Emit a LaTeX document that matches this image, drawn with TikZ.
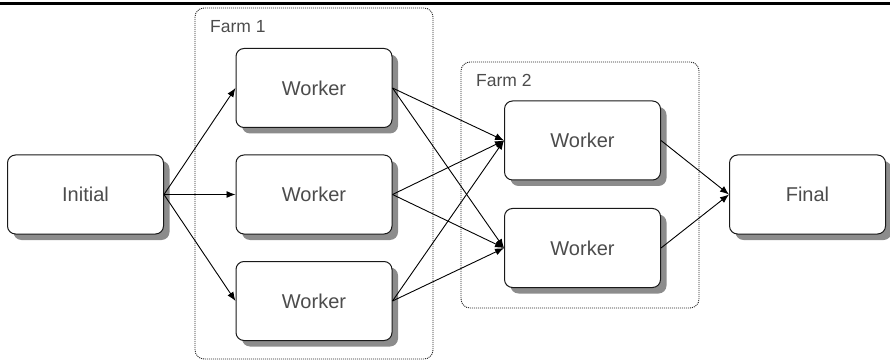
\documentclass[tikz,border=0pt]{standalone}
\usepackage{fontspec}
\setmainfont{Liberation Sans}
\usetikzlibrary{shadows,arrows.meta}
\begin{document}
\begin{tikzpicture}[x=1pt,y=-1pt,
  box/.style={draw=black!90, rounded corners=8pt, fill=white,
    minimum width=156pt, minimum height=79pt, inner sep=0pt, line width=1pt,
    font=\fontsize{20}{24}\selectfont, text=black!70,
    drop shadow={shadow xshift=6pt, shadow yshift=-6pt, fill=black!45, opacity=1}},
  farm/.style={draw=black!85, dash pattern=on 1pt off 1pt, rounded corners=9pt, line width=0.9pt},
  farmlabel/.style={anchor=base west, inner sep=0pt, font=\fontsize{17.5}{20}\selectfont, text=black!70},
  conn/.style={draw=black, line width=0.9pt, -{Latex[length=9pt,width=7pt]}}
]
\useasboundingbox (0,0) rectangle (890,363);
\draw[line width=2.5pt] (0,3.5) -- (890,3.5);

% farm containers
\draw[farm] (195,8) rectangle (433,359);
\draw[farm] (461,62) rectangle (699,308);
\node[farmlabel] (l1) at (210,33) {Farm 1};
\node[farmlabel] (l2) at (476,87) {Farm 2};

% nodes
\node[box] (init) at (85.5,194.5) {Initial};
\node[box] (w1) at (314,88) {Worker};
\node[box] (w2) at (314,194.5) {Worker};
\node[box] (w3) at (314,301) {Worker};
\node[box] (v1) at (582.5,140.5) {Worker};
\node[box] (v2) at (582.5,248) {Worker};
\node[box] (fin) at (807.5,194.5) {Final};

% connectors
\foreach \w in {w1,w2,w3} {
  \draw[conn] (init.east) -- (\w.west);
  \draw[conn] (\w.east) -- (v1.west);
  \draw[conn] (\w.east) -- (v2.west);
}
\draw[conn] (v1.east) -- (fin.west);
\draw[conn] (v2.east) -- (fin.west);
\end{tikzpicture}
\end{document}
